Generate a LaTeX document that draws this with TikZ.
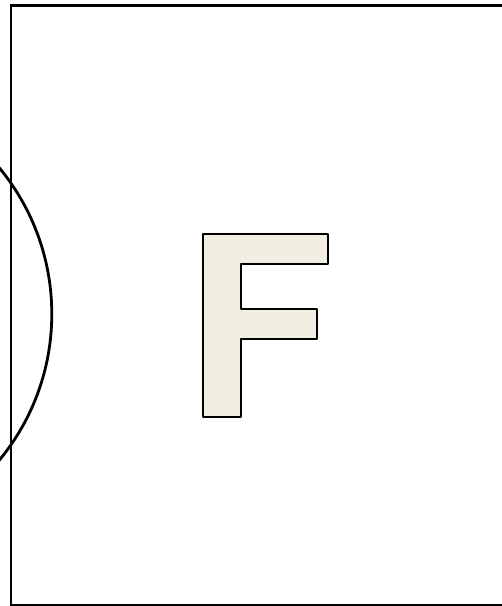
\documentclass[tikz,border=0pt]{standalone}
\begin{document}
\begin{tikzpicture}[x=1pt,y=-1pt,
  outline/.style={draw=black,line width=2.8pt},
  letter/.style={draw=black,line width=2.6pt,fill=fbeige,line join=round}]
\definecolor{fbeige}{HTML}{F2EFE2}
\useasboundingbox (0,0) rectangle (502,606);
\clip (0,0) rectangle (502,606);
\draw[outline] (11,5.5) rectangle (504,605.5);
\draw[outline] (-178,314) circle (229.8);
\draw[letter] (203,234) -- (328,234) -- (328,264) -- (241,264) -- (241,309)
  -- (317,309) -- (317,339) -- (241,339) -- (241,417) -- (203,417) -- cycle;
\end{tikzpicture}
\end{document}
